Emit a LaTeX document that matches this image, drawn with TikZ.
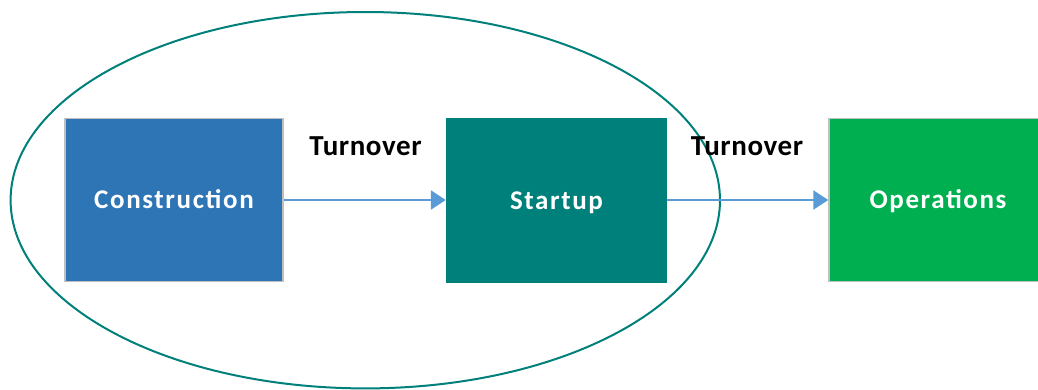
\documentclass[tikz,border=0pt]{standalone}
\usepackage{fontspec}
\setmainfont{Carlito}
\usetikzlibrary{arrows.meta,shapes.geometric}

\definecolor{conblue}{HTML}{2E75B6}
\definecolor{startteal}{HTML}{00807A}
\definecolor{opgreen}{HTML}{00B050}
\definecolor{flowblue}{HTML}{5B9BD5}
\definecolor{edgegray}{HTML}{BFBFBF}

\tikzset{
  phase/.style={rectangle, minimum width=218pt, minimum height=163pt,
    inner sep=0pt, text=white,
    font=\fontsize{27}{31}\selectfont\bfseries\addfontfeature{LetterSpace=6},
    text height=17pt, text depth=0pt},
  bordered/.style={draw=edgegray, line width=1.5pt},
  group/.style={ellipse, draw=startteal, line width=2pt, inner sep=0pt},
  flow/.style={draw=flowblue, line width=2.5pt,
    -{Triangle[length=15pt, width=19pt]}},
  handoff/.style={inner sep=0pt, text=black,
    font=\fontsize{29}{33}\selectfont\bfseries\addfontfeature{LetterSpace=2}},
}

\begin{document}
\begin{tikzpicture}[x=1pt, y=-1pt]
  \useasboundingbox (0,0) rectangle (1038,389);
  \clip (0,0) rectangle (1038,389);

  % boundary around the construction and startup phases
  \node[group, minimum width=709.4pt, minimum height=376.4pt] (scope) at (365.3,200.2) {};

  % phase boxes
  \node[phase, bordered, fill=conblue] (con) at (174,200) {Construction};
  \node[phase, fill=startteal, minimum width=221pt, minimum height=165pt] (start) at (556.5,200.5) {Startup};
  \node[phase, bordered, fill=opgreen] (ops) at (938,200) {Operations};

  % handoffs between phases
  \draw[flow] (con.east) -- (start.west |- con.east);
  \draw[flow] (start.east |- con.east) -- (ops.west);

  \node[handoff] (t1) at (365.5,146.5) {Turnover};
  \node[handoff] (t2) at (747,146.5) {Turnover};
\end{tikzpicture}
\end{document}
